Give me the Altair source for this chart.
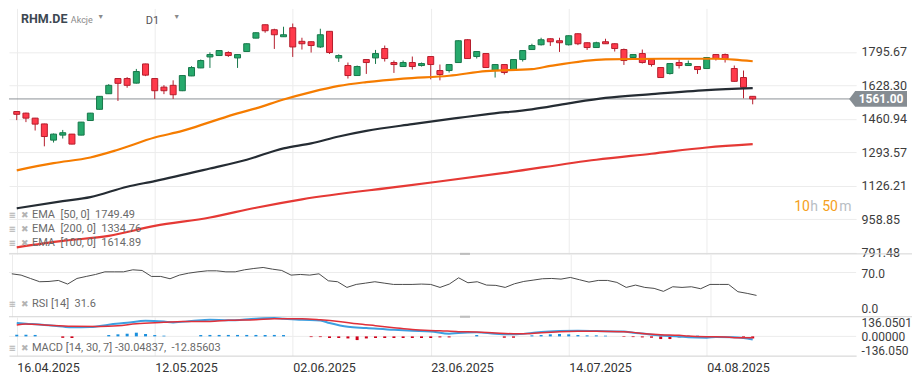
import altair as alt
import pandas as pd

# ---------------- data ----------------
# trading-day index 0 = 16.04.2025 ... 80 = last candle
opens  = [1498,1490,1465,1436,1355,1380,1385,1380,1453,1509,1587,1663,1663,1640,1736,1663,1620,1629,1602,1676,
          1716,1771,1778,1793,1766,1798,1865,1932,1907,1872,1917,1849,1847,1821,1899,1766,1728,1678,1758,1766,
          1813,1743,1723,1743,1728,1773,1703,1703,1743,1857,1773,1788,1703,1733,1708,1758,1808,1832,1862,1852,
          1832,1887,1842,1818,1847,1837,1808,1768,1788,1758,1718,1688,1743,1728,1723,1713,1783,1783,1713,1668,1574]
highs  = [1500,1492,1466,1437,1388,1406,1386,1446,1491,1575,1635,1665,1670,1711,1737,1664,1630,1654,1679,1725,
          1758,1794,1804,1799,1785,1839,1894,1933,1912,1922,1938,1867,1849,1912,1900,1784,1743,1728,1759,1806,
          1828,1753,1753,1773,1743,1774,1733,1734,1854,1859,1799,1789,1734,1734,1759,1804,1837,1867,1864,1867,
          1879,1889,1844,1847,1862,1839,1813,1784,1808,1759,1719,1739,1758,1753,1724,1769,1784,1788,1728,1703,1575]
lows   = [1455,1445,1403,1324,1343,1363,1334,1379,1451,1508,1586,1551,1617,1638,1675,1561,1585,1561,1600,1675,
          1715,1716,1776,1771,1716,1796,1864,1892,1811,1871,1771,1808,1793,1816,1786,1746,1663,1677,1686,1736,
          1748,1691,1722,1708,1723,1659,1654,1693,1742,1761,1763,1717,1668,1683,1707,1748,1806,1828,1826,1796,
          1828,1830,1806,1816,1836,1798,1731,1766,1738,1723,1667,1683,1713,1727,1686,1712,1753,1743,1647,1564,1534]
closes = [1484,1465,1435,1373,1385,1392,1335,1445,1490,1574,1629,1639,1629,1698,1680,1602,1602,1582,1678,1718,
          1753,1783,1803,1778,1783,1837,1892,1902,1882,1882,1821,1837,1828,1882,1793,1778,1678,1723,1743,1788,
          1763,1733,1743,1723,1738,1733,1683,1733,1852,1763,1798,1718,1733,1693,1758,1803,1828,1857,1847,1842,
          1877,1837,1818,1842,1837,1813,1753,1783,1743,1733,1668,1738,1728,1738,1708,1768,1763,1763,1649,1619,1561]

ema50_idx = [0, 4, 8, 11, 15, 18, 21, 24, 26, 29, 32, 35, 38, 42, 47, 51, 56, 58, 64, 70, 76, 78, 80]
ema50_val = [1204, 1240, 1268, 1307, 1368, 1401, 1445, 1489, 1514, 1558, 1595, 1626, 1645, 1663, 1677, 1700,
             1710, 1726, 1759, 1762, 1762, 1758, 1749.49]
ema100_idx = [0, 5, 8, 12, 15, 21, 25, 29, 32, 35, 38, 43, 48, 51, 56, 60, 64, 69, 75, 80]
ema100_val = [1014, 1050, 1070, 1122, 1150, 1213, 1257, 1314, 1339, 1373, 1401, 1435, 1466, 1484, 1509, 1539,
              1566, 1585, 1605, 1614.89]
ema200_idx = [0, 5, 10, 15, 21, 26, 31, 42, 53, 63, 69, 75, 80]
ema200_val = [819, 851, 876, 926, 968, 1017, 1059, 1125, 1191, 1257, 1287, 1318, 1334.76]

rsi_vals = [67.8,65.6,60,54.5,55,56.7,50.6,60,63.4,66.7,71.1,71.1,71.1,74.5,73.4,63.4,63.4,59.5,65.6,68.9,
            71.1,72.8,72.8,71.1,71.1,74.5,76.7,78.4,75.6,73.4,65.6,66.7,65.6,67.8,56.1,54.5,45,50,52.2,54.5,
            52.2,50,50,50,50.6,50,45,50.6,61.1,52.8,54.5,48.9,48.4,45,51.1,55,57.2,59.5,60,58.9,
            61.7,57.8,53.9,56.7,56.7,53.4,45,48.9,45,43.4,38.4,46.1,45,46.1,42.8,50,50,50,37.8,35,31.6]

macd_idx = [0, 1, 3, 5, 6, 8, 10, 12, 14, 16, 17, 19, 21, 23, 26, 28, 29, 31, 33, 34, 36, 38, 41, 43, 45, 47,
            48, 50, 52, 54, 56, 57, 59, 61, 63, 66, 67, 68, 70, 72, 73, 75, 76, 78, 79, 80]
macd_val = [130, 124, 112, 95, 88, 91, 114, 132, 152, 144, 136, 149, 162, 156, 172, 178, 172, 161, 155, 130, 93,
            82, 64, 55, 48, 26, 33, 39, 26, 20, 33, 42, 52, 55, 52, 47, 36, 27, 9, 0, -9, -13, -6, -8, -16, -30.05]
sig_idx = [0, 1, 3, 6, 9, 11, 13, 16, 18, 21, 23, 26, 28, 31, 33, 35, 37, 39, 41, 43, 46, 48, 50, 52, 54, 56,
           57, 59, 61, 63, 66, 67, 68, 70, 72, 73, 75, 77, 78, 80]
sig_val = [110, 120, 111, 98, 97, 104, 123, 137, 146, 146, 156, 162, 172, 172, 162, 146, 123, 104, 85, 66, 55,
           46, 42, 33, 26, 29, 36, 46, 49, 49, 45, 39, 27, 16, 10, 4, -3, -6, -13, -12.86]
hist_vals = [16,16,14,0,0,-14,-16,0,0,0,13,20,26,36,23,13,7,0,0,0,
             13,14,14,14,14,14,14,14,14,13,0,0,-7,-7,-16,-16,-20,-36,-20,-16,
             -16,-16,-16,-16,-16,-16,-10,-10,0,0,13,0,0,-13,-13,0,10,13,20,23,
             20,13,10,10,7,0,-5,-7,-10,-13,-26,-26,-10,7,7,0,0,0,0,-20,-20]

tick_pos = [0, 15, 30, 45, 60, 75]
tick_labels = ["16.04.2025", "12.05.2025", "02.06.2025", "23.06.2025", "14.07.2025", "04.08.2025"]
price_ticks = [791.48, 958.85, 1126.21, 1293.57, 1460.94, 1628.30, 1795.67]
rsi_ticks = [0, 70]
macd_ticks = [-136.050, 0.0, 136.0501]
macd_tick_labels = ["-136.050", "0.00000", "136.0501"]
last_price = 1561.00

# ---------------- styling ----------------
FONT = "Roboto"
GRID = "#ececec"
G_FILL, G_STROKE = "#26a96c", "#17774a"
R_FILL, R_STROKE = "#ff3a4b", "#b51d2c"
W, H1, H2, H3 = 849, 246, 63, 39
SEP_X2 = W + 56

xs = alt.Scale(domain=[-0.3, 90.7], nice=False, zero=False)

XGRID = alt.Axis(values=tick_pos, labels=False, ticks=False, domain=False, title=None,
                 grid=True, gridColor=GRID)


def yaxis(values, size=12.5, **kw):
    return alt.Axis(orient="right", values=values, grid=False, domain=False, ticks=False, labelPadding=5,
                    title=None, labelOverlap=False, labelFontSize=size, labelColor="#3c3c3c", labelFont=FONT, **kw)


def txt(text, x, y, color, size, weight="normal", align="left"):
    return alt.Chart(pd.DataFrame({"t": [text]})).mark_text(
        align=align, baseline="middle", color=color, fontSize=size, fontWeight=weight, font=FONT
    ).encode(x=alt.value(x), y=alt.value(y), text="t:N")


def hud(text, y):
    return [txt("\u2261", 0, y, "#b4b4b4", 12, "bold"),
            txt("\u2716", 16, y, "#b4b4b4", 9, "normal", "center"),
            txt(text, 23, y, "#6a6a6a", 11)]


def hline(y, color, width, x1=0, x2=SEP_X2):
    return alt.Chart(pd.DataFrame({"a": [0]})).mark_rule(color=color, strokeWidth=width).encode(
        x=alt.value(x1), x2=alt.value(x2), y=alt.value(y))


# ---------------- price panel ----------------
cdf = pd.DataFrame({"idx": list(range(len(opens))), "open": opens, "high": highs, "low": lows, "close": closes})
cdf["dir"] = ["up" if c >= o else "down" for o, c in zip(opens, closes)]

ps = alt.Scale(domain=[786.2, 2013.7], nice=False, zero=False)
PAX = alt.Axis(orient="right", values=price_ticks, format=".2f", grid=True, gridColor=GRID, domain=False,
               ticks=False, labelPadding=5, title=None, labelOverlap=False, labelFontSize=12.5,
               labelColor="#3c3c3c", labelFont=FONT)
DIR_COL = alt.Scale(domain=["up", "down"], range=[G_STROKE, R_STROKE])
DIR_FILL = alt.Scale(domain=["up", "down"], range=[G_FILL, R_FILL])

last_rule = alt.Chart(pd.DataFrame({"v": [last_price]})).mark_rule(color="#8c9297", strokeWidth=1).encode(
    y=alt.Y("v:Q", scale=ps, axis=PAX))

wicks = alt.Chart(cdf).mark_rule(strokeWidth=1).encode(
    x=alt.X("idx:Q", scale=xs, axis=XGRID),
    y=alt.Y("low:Q", scale=ps, axis=PAX),
    y2="high:Q",
    stroke=alt.Stroke("dir:N", scale=DIR_COL, legend=None),
)
bodies = alt.Chart(cdf).mark_bar(size=6, strokeWidth=1).encode(
    x=alt.X("idx:Q", scale=xs, axis=XGRID),
    y=alt.Y("open:Q", scale=ps, axis=PAX),
    y2="close:Q",
    fill=alt.Fill("dir:N", scale=DIR_FILL, legend=None),
    stroke=alt.Stroke("dir:N", scale=DIR_COL, legend=None),
)


def ema(idx, vals, color):
    return alt.Chart(pd.DataFrame({"idx": idx, "v": vals})).mark_line(
        color=color, strokeWidth=2.2, interpolate="monotone"
    ).encode(x=alt.X("idx:Q", scale=xs, axis=XGRID), y=alt.Y("v:Q", scale=ps, axis=PAX))


tag_path = "M -1 0 L -0.79 -0.27 L 1 -0.27 L 1 0.27 L -0.79 0.27 Z"
tag = alt.Chart(pd.DataFrame({"v": [last_price]})).mark_point(
    shape=tag_path, size=3364, filled=True, fill="#868d93", opacity=1, strokeWidth=0
).encode(x=alt.value(871), y=alt.Y("v:Q", scale=ps, axis=PAX))
tag_txt = alt.Chart(pd.DataFrame({"v": [last_price]})).mark_text(
    color="white", fontSize=12, fontWeight="bold", font=FONT, align="center", baseline="middle"
).encode(x=alt.value(874), y=alt.Y("v:Q", scale=ps, axis=PAX), text=alt.Text("v:Q", format=".2f"))

price_layers = [last_rule, wicks, bodies,
                ema(ema200_idx, ema200_val, "#e53935"),
                ema(ema100_idx, ema100_val, "#252c33"),
                ema(ema50_idx, ema50_val, "#f57c00"),
                tag, tag_txt,
                hline(H1, "#d4d4d4", 1), hline(H1, "#bdbdbd", 2, 452, 462),
                txt("RHM.DE", 12, 11, "#3d4852", 12.5, "bold"),
                txt("Akcje", 62, 11.5, "#8a8a8a", 9),
                txt("\u25BC", 92, 9, "#8a8a8a", 7, "normal", "center"),
                txt("D1", 137, 13, "#555555", 11),
                txt("\u25BC", 168, 9, "#8a8a8a", 7, "normal", "center"),
                txt("10", 787, 199, "#f5a020", 14),
                txt("h", 803, 199, "#b8bec4", 14),
                txt("50", 815, 199, "#f5a020", 14),
                txt("m", 832, 199, "#b8bec4", 14)]
price_layers += hud("EMA\u00a0 [50, 0]\u00a0 1749.49", 207.5)
price_layers += hud("EMA\u00a0 [200, 0]\u00a0 1334.76", 221.5)
price_layers += hud("EMA\u00a0 [100, 0]\u00a0 1614.89", 235.5)

price = alt.layer(*price_layers).properties(width=W, height=H1)

# ---------------- RSI panel ----------------
rs = alt.Scale(domain=[-4.1, 101.2], nice=False, zero=False)
RAX = yaxis(rsi_ticks, size=12, format=".1f",
            labelOffset={"condition": {"test": "datum.value < 1", "value": -6}, "value": 1})
rdf = pd.DataFrame({"idx": list(range(len(rsi_vals))), "rsi": rsi_vals})
rsi_grid = alt.Chart(pd.DataFrame({"v": [70]})).mark_rule(color=GRID).encode(
    y=alt.Y("v:Q", scale=rs, axis=RAX))
rsi_line = alt.Chart(rdf).mark_line(color="#4a4a4a", strokeWidth=1).encode(
    x=alt.X("idx:Q", scale=xs, axis=XGRID), y=alt.Y("rsi:Q", scale=rs, axis=RAX))
rsi = alt.layer(rsi_grid, rsi_line, hline(H2, "#d4d4d4", 1), hline(H2, "#bdbdbd", 2, 452, 462),
                *hud("RSI [14]\u00a0 31.6", 50)).properties(width=W, height=H2)

# ---------------- MACD panel ----------------
ms = alt.Scale(domain=[-187.6, 191.5], nice=False, zero=False)
lab_expr = "".join(f"datum.value == {p} ? '{l}' : " for p, l in zip(tick_pos, tick_labels)) + "''"
mlab_expr = "".join(f"abs(datum.value - ({p})) < 1 ? '{l}' : " for p, l in zip(macd_ticks, macd_tick_labels)) + "''"
MAX = yaxis(macd_ticks, size=12, labelExpr=mlab_expr,
            labelOffset={"condition": {"test": "datum.value > 100", "value": 0.5},
                         "value": 0.5})
XAX = alt.Axis(values=tick_pos, labelExpr=lab_expr, labelAlign="left", grid=True, gridColor=GRID, ticks=False,
               domain=True, domainColor="#d0d0d0", labelPadding=6, title=None, labelFontSize=12.5,
               labelColor="#333333", labelFont=FONT, labelFlush=False, labelOverlap=False)

hdf = pd.DataFrame({"idx": list(range(len(hist_vals))), "h": hist_vals})
hdf["sign"] = ["pos" if h > 0 else "neg" for h in hist_vals]
hdf = hdf[hdf["h"] != 0]

zero_rule = alt.Chart(pd.DataFrame({"v": [0]})).mark_rule(color=GRID).encode(
    y=alt.Y("v:Q", scale=ms, axis=MAX))
hist = alt.Chart(hdf).mark_bar(size=3).encode(
    x=alt.X("idx:Q", scale=xs, axis=XAX),
    y=alt.Y("h:Q", scale=ms, axis=MAX),
    y2=alt.datum(0),
    fill=alt.Fill("sign:N", scale=alt.Scale(domain=["pos", "neg"], range=["#1a8fdd", "#d0021b"]), legend=None),
)
macd_line = alt.Chart(pd.DataFrame({"idx": macd_idx, "v": macd_val})).mark_line(
    color="#3d9fe0", strokeWidth=2, interpolate="monotone").encode(
    x=alt.X("idx:Q", scale=xs, axis=XAX), y=alt.Y("v:Q", scale=ms, axis=MAX))
sig_line = alt.Chart(pd.DataFrame({"idx": sig_idx, "v": sig_val})).mark_line(
    color="#e0303a", strokeWidth=1.5, interpolate="monotone").encode(
    x=alt.X("idx:Q", scale=xs, axis=XAX), y=alt.Y("v:Q", scale=ms, axis=MAX))
macd = alt.layer(zero_rule, hist, macd_line, sig_line,
                 *hud("MACD [14, 30, 7] -30.04837,\u00a0 -12.85603", 31)).properties(width=W, height=H3)

chart = alt.vconcat(price, rsi, macd, spacing=0, bounds="flush").resolve_scale(
    color="independent", fill="independent", stroke="independent"
).properties(padding=0).configure(background="white").configure_view(stroke=None)

chart.save("out.html", embed_options={"renderer": "svg", "actions": False})
